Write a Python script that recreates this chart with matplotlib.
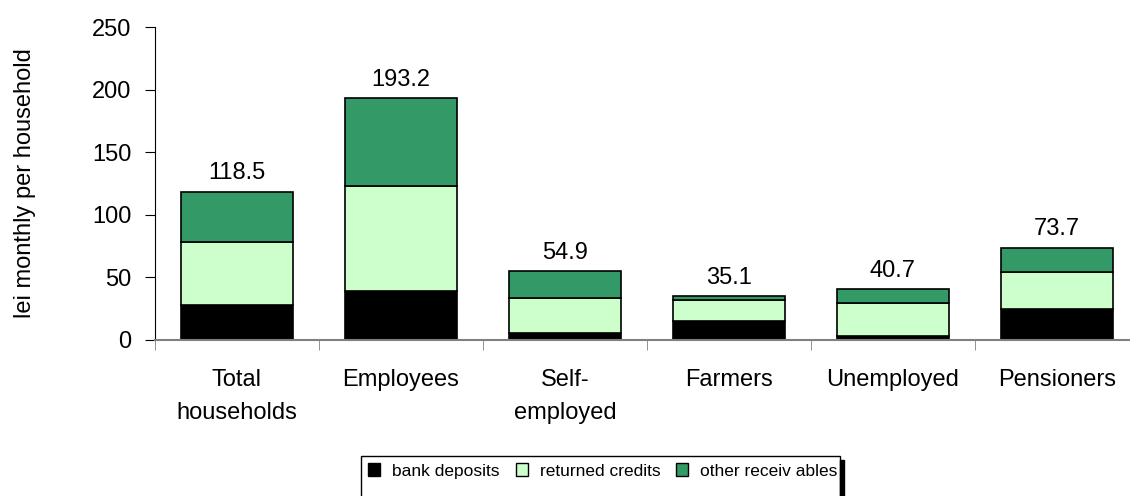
import numpy as np
import matplotlib.pyplot as plt
from matplotlib.patches import Rectangle

plt.rcParams['font.family'] = ['Liberation Sans', 'DejaVu Sans']

categories = ["Total\nhouseholds", "Employees", "Self-\nemployed", "Farmers", "Unemployed", "Pensioners"]
bank_deposits = [28.0, 39.1, 5.3, 15.4, 3.5, 24.5]
returned_credits = [50.5, 84.1, 28.5, 16.6, 25.8, 29.8]
other_receivables = [40.0, 70.0, 21.1, 3.1, 11.4, 19.4]
totals = [118.5, 193.2, 54.9, 35.1, 40.7, 73.7]

series = [("bank deposits", bank_deposits, "#000000"),
          ("returned credits", returned_credits, "#ccffcc"),
          ("other receiv ables", other_receivables, "#339966")]

fig = plt.figure(figsize=(11.3, 4.96), dpi=100)
ax = fig.add_axes([155 / 1130, 1 - 340 / 496, 984 / 1130, 313 / 496])

x = np.arange(len(categories))
bottom = np.zeros(len(categories))
for name, vals, color in series:
    ax.bar(x, vals, bottom=bottom, width=0.68, color=color, edgecolor="black",
           linewidth=1.2, label=name)
    bottom += np.array(vals)

# totals above the stacks
for xi, t in zip(x, totals):
    ax.text(xi, t + 6, f"{t:.1f}", ha="center", va="bottom", fontsize=17)

ax.set_xlim(-0.5, len(categories) - 0.5)
ax.set_ylim(0, 250)
ax.set_yticks(range(0, 251, 50))
ax.set_xticks(x)
ax.set_xticklabels(categories, fontsize=17, linespacing=1.65)
ax.set_xticks(np.arange(-0.5, len(categories), 1), minor=True)
ax.tick_params(axis="x", which="major", length=0, pad=21)
ax.tick_params(axis="x", which="minor", length=7, color="#808080")
ax.tick_params(axis="y", labelsize=17, length=7, pad=10)
ax.set_ylabel("lei monthly per household", fontsize=17, labelpad=40)

for s in ["top", "right"]:
    ax.spines[s].set_visible(False)
ax.spines["bottom"].set_color("#808080")
ax.spines["bottom"].set_linewidth(1.5)

leg = fig.legend(loc="center", bbox_to_anchor=(603 / 1130, 1 - 471 / 496), ncol=3,
                 fontsize=12.5, frameon=False,
                 handlelength=0.7, handleheight=0.7, handletextpad=0.7,
                 columnspacing=0.9, borderpad=0.45)
for h in leg.legend_handles:
    h.set_linewidth(1.0)

# legend box runs off the bottom edge, with a dark strip at its right side
fig.patches.append(Rectangle((361 / 1130, -2 / 496), 479 / 1130, 42 / 496,
                             transform=fig.transFigure, facecolor="none",
                             edgecolor="black", linewidth=1.0))
fig.patches.append(Rectangle((840 / 1130, 0), 4 / 1130, 36 / 496,
                             transform=fig.transFigure, color="black"))

fig.savefig("out.png", dpi=100)
